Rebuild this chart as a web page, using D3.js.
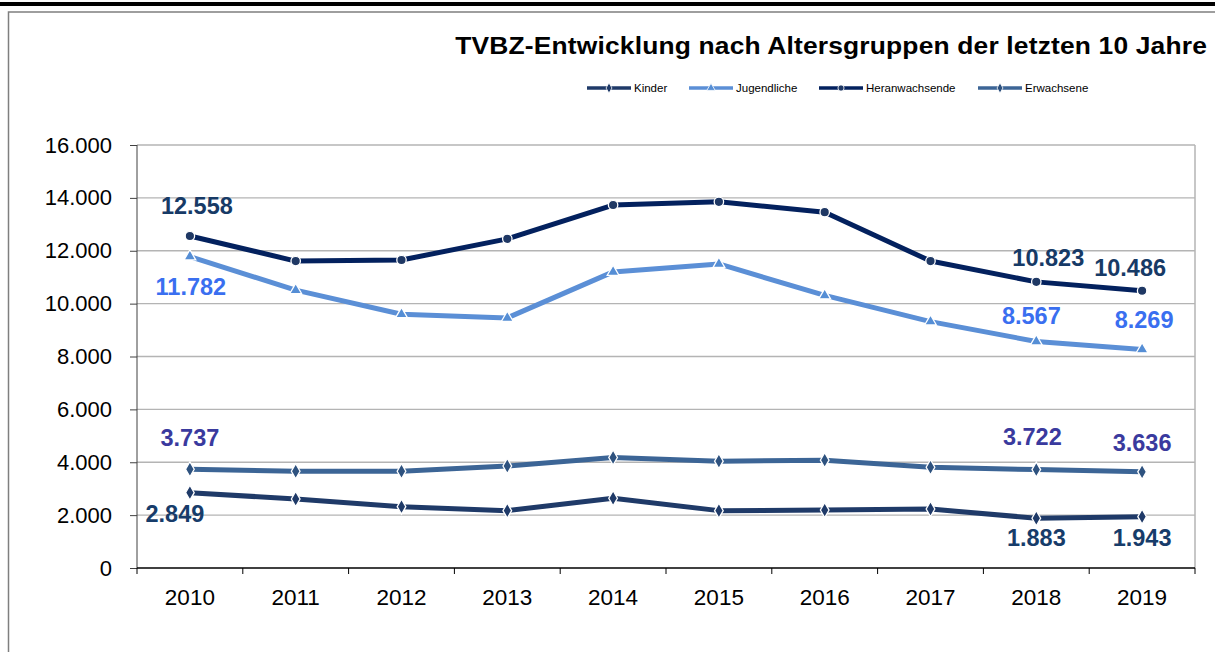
<!DOCTYPE html>
<html>
<head>
<meta charset="utf-8">
<script src="https://cdn.jsdelivr.net/npm/d3@7"></script>
<style>
  body { margin: 0; background: #fff; }
  svg { display: block; font-family: "Liberation Sans", Arial, sans-serif; }
</style>
</head>
<body>
<div id="chart"></div>
<script>
// data
const years = ["2010", "2011", "2012", "2013", "2014", "2015", "2016", "2017", "2018", "2019"];
const kinder = [2849, 2610, 2320, 2170, 2640, 2170, 2190, 2230, 1883, 1943];
const jugendliche = [11782, 10510, 9600, 9460, 11200, 11500, 10310, 9320, 8567, 8269];
const heranwachsende = [12558, 11610, 11650, 12450, 13730, 13850, 13460, 11610, 10823, 10486];
const erwachsene = [3737, 3660, 3660, 3860, 4180, 4040, 4080, 3810, 3722, 3636];
const seriesNames = ["Kinder", "Jugendliche", "Heranwachsende", "Erwachsene"];
const yTicks = [0, 2000, 4000, 6000, 8000, 10000, 12000, 14000, 16000];
const labelledYears = ["2010", "2018", "2019"];

const svgWidth = 1215;
const svgHeight = 652;
const margin = { top: 145, right: 20, bottom: 84, left: 137 };
const width = 1195 - margin.left;
const height = 568 - margin.top;

const fmt = v => d3.format(",")(v).replace(/,/g, ".");

const svg = d3.select("#chart").append("svg")
    .attr("width", svgWidth)
    .attr("height", svgHeight);

// outer frame
svg.append("rect").attr("x", 0).attr("y", 2).attr("width", svgWidth).attr("height", 4).attr("fill", "#000");
svg.append("path")
    .attr("d", `M8.5,${svgHeight} V12 H${svgWidth}`)
    .attr("fill", "none").attr("stroke", "#7f7f7f").attr("stroke-width", 1.5);

// title, glyphs a bit wider than Liberation Sans
svg.append("text")
    .attr("transform", "translate(1207, 54) scale(1.1, 1)")
    .attr("text-anchor", "end")
    .style("font-size", "24px").style("font-weight", "bold")
    .style("letter-spacing", "0.15px")
    .text("TVBZ-Entwicklung nach Altersgruppen der letzten 10 Jahre");

const chartGroup = svg.append("g")
    .attr("transform", `translate(${margin.left}, ${margin.top})`);

const x = d3.scaleBand().domain(years).range([0, width]);
const y = d3.scaleLinear().domain([0, 16000]).range([height, 0]);

// gridlines
chartGroup.append("g")
    .selectAll("line")
    .data(yTicks.slice(1))
    .enter().append("line")
    .attr("x1", 0).attr("x2", width)
    .attr("y1", d => y(d)).attr("y2", d => y(d))
    .attr("stroke", "#b4b4b4").attr("stroke-width", 1.3);

// plot area right border
chartGroup.append("line")
    .attr("x1", width).attr("x2", width).attr("y1", 0).attr("y2", height)
    .attr("stroke", "#b4b4b4").attr("stroke-width", 1.5);

const leftAxis = d3.axisLeft(y).tickValues(yTicks).tickFormat(fmt).tickSize(7).tickPadding(18);
const yAxisG = chartGroup.append("g").call(leftAxis);
yAxisG.selectAll("text").style("font-size", "22px").style("font-family", "Liberation Sans, Arial, sans-serif").attr("fill", "#000");
yAxisG.selectAll("line").attr("stroke", "#404040");
yAxisG.select(".domain").attr("stroke", "#404040").attr("d", `M0,0V${height}`);

// x axis with ticks at band boundaries
const bottomG = chartGroup.append("g").attr("transform", `translate(0, ${height})`);
bottomG.append("line").attr("x1", 0).attr("x2", width).attr("stroke", "#000").attr("stroke-width", 1.3);
bottomG.selectAll(".tk")
    .data(years.concat(["end"]))
    .enter().append("line")
    .attr("class", "tk")
    .attr("x1", (d, i) => i * x.step()).attr("x2", (d, i) => i * x.step())
    .attr("y1", 0).attr("y2", 6)
    .attr("stroke", "#000");
bottomG.selectAll("text")
    .data(years)
    .enter().append("text")
    .attr("x", d => x(d) + x.bandwidth() / 2)
    .attr("y", 37)
    .attr("text-anchor", "middle")
    .style("font-size", "22.5px")
    .text(d => d);

const series = [
  { name: "Kinder", values: kinder, color: "#1f3a68", markerColor: "#1f3a68", labelColor: "#173c6a", marker: "diamond" },
  { name: "Jugendliche", values: jugendliche, color: "#5b8fd6", markerColor: "#558ed5", labelColor: "#3a6ff0", marker: "triangle" },
  { name: "Heranwachsende", values: heranwachsende, color: "#03215e", markerColor: "#1f3864", labelColor: "#173a66", marker: "circle" },
  { name: "Erwachsene", values: erwachsene, color: "#3c6596", markerColor: "#2e527f", labelColor: "#3a3a9e", marker: "diamond" }
];

const symbolFor = {
  diamond: d3.symbol().type(d3.symbolDiamond).size(65),
  triangle: d3.symbol().type(d3.symbolTriangle).size(60),
  circle: d3.symbol().type(d3.symbolCircle).size(70)
};

const line = d3.line()
    .x((d, i) => x(years[i]) + x.bandwidth() / 2)
    .y(d => y(d));

series.forEach(s => {
  chartGroup.append("path")
      .datum(s.values)
      .attr("d", line)
      .attr("fill", "none")
      .attr("stroke", s.color)
      .attr("stroke-width", 5)
      .attr("stroke-linejoin", "round");

  chartGroup.append("g").selectAll("path")
      .data(s.values)
      .enter().append("path")
      .attr("transform", (d, i) => `translate(${x(years[i]) + x.bandwidth() / 2}, ${y(d)})`)
      .attr("d", symbolFor[s.marker])
      .attr("fill", s.markerColor)
      .attr("stroke", "#fff")
      .attr("stroke-width", 1.3);
});

// data labels (offsets relative to the point)
const labelOffsets = {
  "Kinder": { "2010": [-15, 21], "2018": [0, 20], "2019": [0, 21] },
  "Jugendliche": { "2010": [1, 30], "2018": [-5, -26], "2019": [2, -29] },
  "Heranwachsende": { "2010": [7, -30], "2018": [12, -24], "2019": [-12, -23] },
  "Erwachsene": { "2010": [0, -31], "2018": [-4, -33], "2019": [0, -29] }
};

series.forEach(s => {
  labelledYears.forEach(yr => {
    const i = years.indexOf(yr);
    const off = labelOffsets[s.name][yr];
    chartGroup.append("text")
        .attr("x", x(yr) + x.bandwidth() / 2 + off[0])
        .attr("y", y(s.values[i]) + off[1])
        .attr("text-anchor", "middle")
        .attr("dominant-baseline", "central")
        .style("font-size", "23.5px")
        .style("font-weight", "bold")
        .attr("fill", s.labelColor)
        .text(fmt(s.values[i]));
  });
});

// legend
const legendX = [587, 689, 819, 978];
const legend = svg.append("g").attr("transform", "translate(0, 88)");
series.forEach((s, i) => {
  const g = legend.append("g").attr("transform", `translate(${legendX[i]}, 0)`);
  g.append("line").attr("x1", 0).attr("x2", 44).attr("y1", 0).attr("y2", 0)
      .attr("stroke", s.color).attr("stroke-width", 3.5);
  g.append("path").attr("transform", "translate(22, 0)")
      .attr("d", d3.symbol().type(s.marker === "circle" ? d3.symbolCircle : s.marker === "triangle" ? d3.symbolTriangle : d3.symbolDiamond).size(30))
      .attr("fill", s.markerColor).attr("stroke", "#fff").attr("stroke-width", 0.8);
  g.append("text").attr("x", 47).attr("y", 0)
      .attr("dominant-baseline", "central")
      .style("font-size", "11.5px")
      .text(s.name);
});
</script>
</body>
</html>
